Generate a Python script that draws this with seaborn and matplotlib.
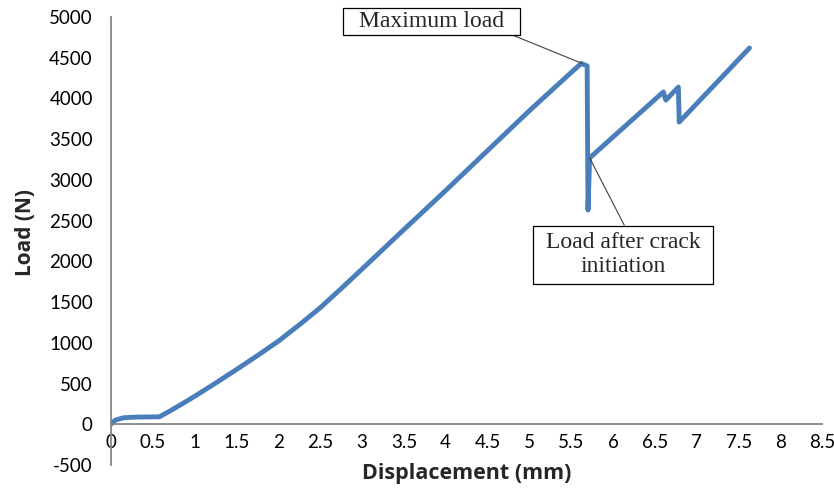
import numpy as np
import pandas as pd
import matplotlib.pyplot as plt
import seaborn as sns
from matplotlib.path import Path

# Estilo
sns.set_style("white")
plt.rcParams['font.family'] = ['Lato', 'DejaVu Sans']
plt.rcParams['axes.unicode_minus'] = False

desplazamiento = [0.0, 0.05, 0.15, 0.3, 0.45, 0.58, 0.7, 0.85, 1.0, 1.25, 1.5,
                  1.75, 2.0, 2.25, 2.5, 2.75, 3.0, 3.5, 4.0, 4.5, 5.0, 5.5, 5.62,
                  5.69, 5.70, 5.72, 6.1, 6.60, 6.63, 6.78, 6.79, 7.63]
carga = [0, 50, 80, 88, 90, 92, 160, 250, 343, 505, 672,
         843, 1020, 1220, 1430, 1665, 1905, 2390, 2870, 3360, 3850, 4320, 4430,
         4400, 2630, 3270, 3620, 4080, 3980, 4140, 3710, 4620]

ticks_x = np.arange(0, 8.51, 0.5)
ticks_y = np.arange(-500, 5001, 500)

df = pd.DataFrame({"Displacement": desplazamiento, "Load": carga})


def caja(padx, pady):
    # recuadro rectangular con margen distinto en x e y
    def estilo(x0, y0, width, height, mutation_size):
        px = padx * mutation_size
        py = pady * mutation_size
        x0, y0 = x0 - px, y0 - py
        x1, y1 = x0 + width + 2 * px, y0 + height + 2 * py
        return Path([(x0, y0), (x1, y0), (x1, y1), (x0, y1), (x0, y0)], closed=True)
    return estilo


fig = plt.figure(figsize=(8.34, 4.95), dpi=100)
ax = fig.add_axes([0.133, 0.0606, 0.853, 0.905])

sns.lineplot(data=df, x="Displacement", y="Load", sort=False, estimator=None,
             ax=ax, color="#4a7ebb", linewidth=3.5,
             solid_capstyle="round", solid_joinstyle="round")

ax.set_xlim(0, 8.5)
ax.set_ylim(-500, 5000)
ax.set_xticks(ticks_x)
ax.set_xticklabels([f"{v:g}" for v in ticks_x])
ax.set_yticks(ticks_y)

# Ejes estilo Excel
gris = "#868686"
for lado in ["top", "right"]:
    ax.spines[lado].set_visible(False)
ax.spines["bottom"].set_position(("data", 0))
for lado in ["bottom", "left"]:
    ax.spines[lado].set_color(gris)
    ax.spines[lado].set_linewidth(1.3)
ax.tick_params(axis="both", direction="out", length=5, width=1.3,
               color=gris, labelsize=13.5, labelcolor="black")
ax.tick_params(axis="x", pad=2)
ax.tick_params(axis="y", pad=8)

ax.set_xlabel("Displacement (mm)", fontsize=15.5, fontweight="bold", family="Open Sans")
ax.set_ylabel("Load (N)", fontsize=15, fontweight="bold", family="Open Sans")
ax.xaxis.set_label_coords(0.5, -0.02)
ax.xaxis.label.set_va("center")
ax.yaxis.set_label_coords(-0.12, 0.52)
ax.yaxis.label.set_va("center")

# Anotaciones
ax.annotate("Maximum load", xy=(5.63, 4430), xytext=(3.83, 4950),
            fontsize=17, family="Liberation Serif", ha="center", va="center",
            bbox=dict(boxstyle=caja(0.68, 0.13), fc="white", ec="black", lw=0.9),
            arrowprops=dict(arrowstyle="-", color="#404040", lw=0.8,
                            relpos=(1.0, 0.0), shrinkA=0, shrinkB=0))
ax.annotate("Load after crack\ninitiation", xy=(5.72, 3270), xytext=(6.12, 2083),
            fontsize=17, family="Liberation Serif", ha="center", va="center",
            bbox=dict(boxstyle=caja(0.55, 0.27), fc="white", ec="black", lw=0.9),
            linespacing=1.2,
            arrowprops=dict(arrowstyle="-", color="#404040", lw=0.8,
                            relpos=(0.53, 1.0), shrinkA=0, shrinkB=0))

plt.savefig("out.png", dpi=100)
